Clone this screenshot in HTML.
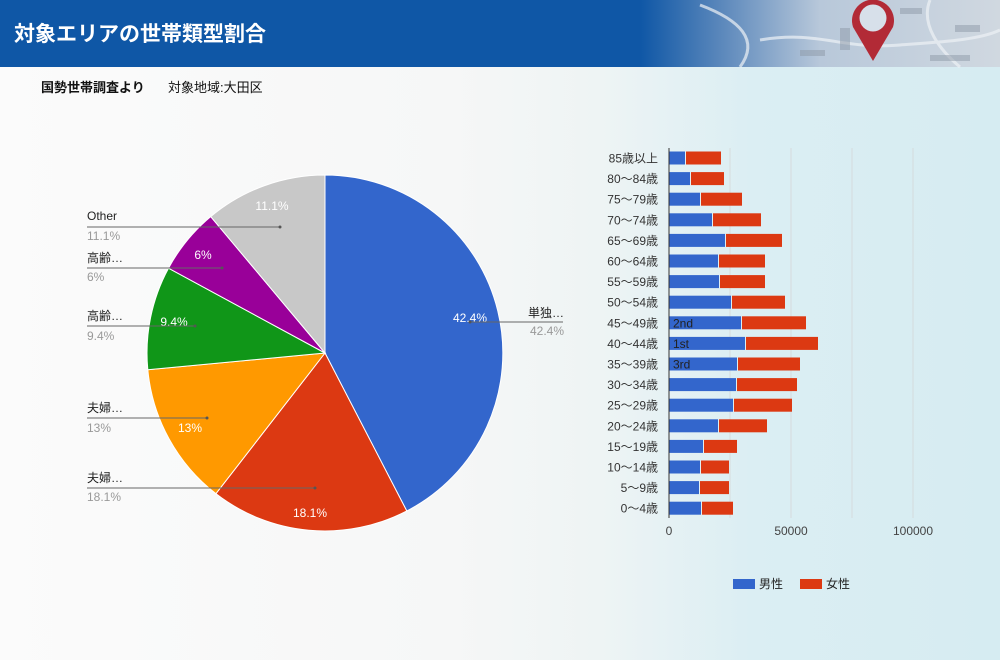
<!DOCTYPE html>
<html><head><meta charset="utf-8"><style>
body{margin:0;width:1000px;height:660px;overflow:hidden;font-family:"Liberation Sans","Noto Sans CJK JP",sans-serif;}
.bg{position:absolute;left:0;top:0;width:1000px;height:660px;background:linear-gradient(90deg,#fbfbfb 0%,#f6f7f7 45%,#eef4f4 60%,#dbeef3 75%,#d6ecf2 100%);}
.hdr{position:absolute;left:0;top:0;width:1000px;height:67px;background:linear-gradient(90deg,#0f57a6 0%,#0f57a6 64%,#5a87bb 72%,#b8c8da 82%,#d0d8e0 100%);}
</style></head><body>
<div class="bg"></div>
<div class="hdr"></div>
<svg width="1000" height="660" style="position:absolute;left:0;top:0" font-family="Liberation Sans, Noto Sans CJK JP, sans-serif">
<g stroke="#eef2f6" stroke-width="3" fill="none" opacity="0.7">
<path d="M700,5 C740,20 760,40 740,67"/><path d="M760,40 C820,30 840,50 900,45 C940,42 980,40 1000,30"/>
<path d="M930,0 C920,25 940,50 960,67"/>
</g>
<g fill="#8e9aa8" opacity="0.5">
<rect x="840" y="28" width="10" height="22"/><rect x="900" y="8" width="22" height="6"/><rect x="955" y="25" width="25" height="7"/><rect x="930" y="55" width="40" height="6"/><rect x="800" y="50" width="25" height="6"/>
</g>
<path d="M873,61 L853,27 A21,21 0 1 1 893,27 Z" fill="#b22a36"/>
<circle cx="873" cy="18" r="13.5" fill="#d7e0ea"/>
<text x="14" y="41" font-size="21" font-weight="bold" fill="#fff">対象エリアの世帯類型割合</text>
<text x="41" y="92" font-size="13" font-weight="bold" fill="#111">国勢世帯調査より</text>
<text x="168" y="92" font-size="13" fill="#111">対象地域:大田区</text>
<g stroke="#fff" stroke-width="1">
<path d="M325,353 L325,175 A178,178 0 0 1 406.8,511 Z" fill="#3366cc"/>
<path d="M325,353 L406.8,511 A178,178 0 0 1 215.9,493.7 Z" fill="#dc3912"/>
<path d="M325,353 L215.9,493.7 A178,178 0 0 1 147.8,369.7 Z" fill="#ff9900"/>
<path d="M325,353 L147.8,369.7 A178,178 0 0 1 168.5,268.2 Z" fill="#109618"/>
<path d="M325,353 L168.5,268.2 A178,178 0 0 1 210.7,216.6 Z" fill="#990099"/>
<path d="M325,353 L210.7,216.6 A178,178 0 0 1 325,175 Z" fill="#c8c8c8"/>
</g>
<g font-size="12" fill="#fff" text-anchor="middle">
<text x="470" y="322">42.4%</text><text x="310" y="517">18.1%</text>
<text x="190" y="432">13%</text><text x="174" y="326">9.4%</text>
<text x="203" y="259">6%</text><text x="272" y="210">11.1%</text>
</g>
<g stroke="#666" stroke-width="1">
<line x1="87" y1="227" x2="280" y2="227"/><line x1="87" y1="268" x2="222" y2="268"/>
<line x1="87" y1="326" x2="195" y2="326"/><line x1="87" y1="418" x2="207" y2="418"/>
<line x1="87" y1="488" x2="315" y2="488"/><line x1="470" y1="322" x2="563" y2="322"/>
</g>
<g fill="#555"><circle cx="280" cy="227" r="1.5"/><circle cx="222" cy="268" r="1.5"/><circle cx="195" cy="326" r="1.5"/><circle cx="207" cy="418" r="1.5"/><circle cx="315" cy="488" r="1.5"/><circle cx="470" cy="322" r="1.5"/></g>
<g font-size="12">
<text x="87" y="220" fill="#222">Other</text><text x="87" y="240" fill="#999">11.1%</text>
<text x="87" y="262" fill="#222">高齢…</text><text x="87" y="281" fill="#999">6%</text>
<text x="87" y="320" fill="#222">高齢…</text><text x="87" y="340" fill="#999">9.4%</text>
<text x="87" y="412" fill="#222">夫婦…</text><text x="87" y="432" fill="#999">13%</text>
<text x="87" y="482" fill="#222">夫婦…</text><text x="87" y="501" fill="#999">18.1%</text>
<text x="528" y="317" fill="#222">単独…</text><text x="530" y="335" fill="#999">42.4%</text>
</g>
<g stroke="#d4d4d4" stroke-width="1" opacity="0.7"><line x1="730" y1="148" x2="730" y2="518"/><line x1="791" y1="148" x2="791" y2="518"/><line x1="852" y1="148" x2="852" y2="518"/><line x1="913" y1="148" x2="913" y2="518"/></g>
<g id="bars"></g>
<line x1="669" y1="148" x2="669" y2="518" stroke="#333"/>
<g font-size="12" fill="#444" text-anchor="middle"><text x="669" y="535">0</text><text x="791" y="535">50000</text><text x="913" y="535">100000</text></g>
<rect x="733" y="579" width="22" height="10" fill="#3366cc"/><text x="759" y="588" font-size="12" fill="#222">男性</text>
<rect x="800" y="579" width="22" height="10" fill="#dc3912"/><text x="826" y="588" font-size="12" fill="#222">女性</text>
</svg>
<script>
var d=[["85歳以上",685,721],["80～84歳",690,724],["75～79歳",700,742],["70～74歳",712,761],["65～69歳",725,782],["60～64歳",718,765],["55～59歳",719,765],["50～54歳",731,785],["45～49歳",741,806],["40～44歳",745,818],["35～39歳",737,800],["30～34歳",736,797],["25～29歳",733,792],["20～24歳",718,767],["15～19歳",703,737],["10～14歳",700,729],["5～9歳",699,729],["0～4歳",701,733]];
var s="",lab=["","","","","","","","","2nd","1st","3rd"];
d.forEach(function(r,i){var y=158+i*20.6;
s+='<rect x="669" y="'+(y-6.5)+'" width="'+(r[1]-669)+'" height="13" fill="#3366cc"/>';
s+='<rect x="'+(r[1]+1)+'" y="'+(y-6.5)+'" width="'+(r[2]-r[1]-1)+'" height="13" fill="#dc3912"/>';
s+='<text x="658" y="'+(y+4.5)+'" font-size="12" fill="#333" text-anchor="end">'+r[0]+'</text>';
if(lab[i])s+='<text x="673" y="'+(y+4.5)+'" font-size="12" fill="#222">'+lab[i]+'</text>';});
document.getElementById("bars").innerHTML=s;
</script>
</body></html>
